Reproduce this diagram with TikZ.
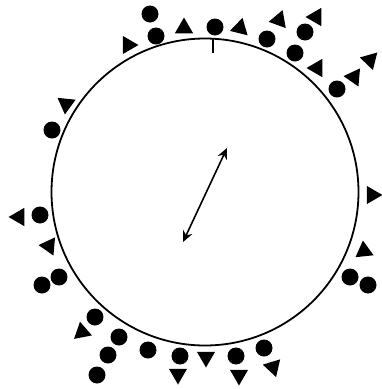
\documentclass[tikz,border=0pt]{standalone}
\usetikzlibrary{shapes.geometric,arrows.meta,calc}
\begin{document}
\begin{tikzpicture}[x=1pt,y=-1pt,
  dot/.style={circle,fill=black,draw=none,inner sep=0pt,minimum size=17pt},
  tri/.style={regular polygon,regular polygon sides=3,fill=black,draw=none,inner sep=0pt,minimum size=21pt}]
\useasboundingbox (0,0) rectangle (382,389);
% main circle
\node[draw,circle,line width=1.8pt,inner sep=0pt,minimum size=307pt] (ring) at (205,192) {};
\coordinate (tickend) at ($(ring.87)+(0,15)$);
\draw[line width=1.8pt] (ring.87) -- (tickend);
% double arrow
\coordinate (a1) at (183,242);
\coordinate (a2) at (227,148);
\draw[line width=1.6pt,{Stealth[length=11pt,width=10pt]}-{Stealth[length=11pt,width=10pt]}] (a1) -- (a2);
% circles
\node[dot] (c1) at (150,14) {};
\node[dot] (c2) at (156,36) {};
\node[dot] (c3) at (215,27) {};
\node[dot] (c4) at (267,39) {};
\node[dot] (c5) at (305,32) {};
\node[dot] (c6) at (295,53) {};
\node[dot] (c7) at (337,89) {};
\node[dot] (c8) at (52,130) {};
\node[dot] (c9) at (40,215) {};
\node[dot] (c10) at (59,277) {};
\node[dot] (c11) at (42,285) {};
\node[dot] (c12) at (350,277) {};
\node[dot] (c13) at (368,285) {};
\node[dot] (c14) at (95,317) {};
\node[dot] (c15) at (119,337) {};
\node[dot] (c16) at (108,355) {};
\node[dot] (c17) at (97,375) {};
\node[dot] (c18) at (148,350) {};
\node[dot] (c19) at (180,356) {};
\node[dot] (c20) at (236,356) {};
\node[dot] (c21) at (264,348) {};
% triangles
\node[tri,rotate=-90] (t1) at (128,45) {};
\node[tri,rotate=0] (t2) at (184,28) {};
\node[tri,rotate=-14] (t3) at (240,28) {};
\node[tri,rotate=-20] (t4) at (279,20) {};
\node[tri,rotate=90] (t5) at (316,17) {};
\node[tri,rotate=90] (t6) at (317,68) {};
\node[tri,rotate=85] (t7) at (354,77) {};
\node[tri,rotate=76] (t8) at (370,60) {};
\node[tri,rotate=174] (t9) at (66,104) {};
\node[tri,rotate=90] (t10) at (19,217) {};
\node[tri,rotate=85] (t11) at (49,246) {};
\node[tri,rotate=-90] (t12) at (372,195) {};
\node[tri,rotate=6] (t13) at (364,251) {};
\node[tri,rotate=11] (t14) at (82,332) {};
\node[tri,rotate=180] (t15) at (178,374) {};
\node[tri,rotate=180] (t16) at (206,357) {};
\node[tri,rotate=180] (t17) at (239,375) {};
\node[tri,rotate=77] (t18) at (273,367) {};
\end{tikzpicture}
\end{document}
